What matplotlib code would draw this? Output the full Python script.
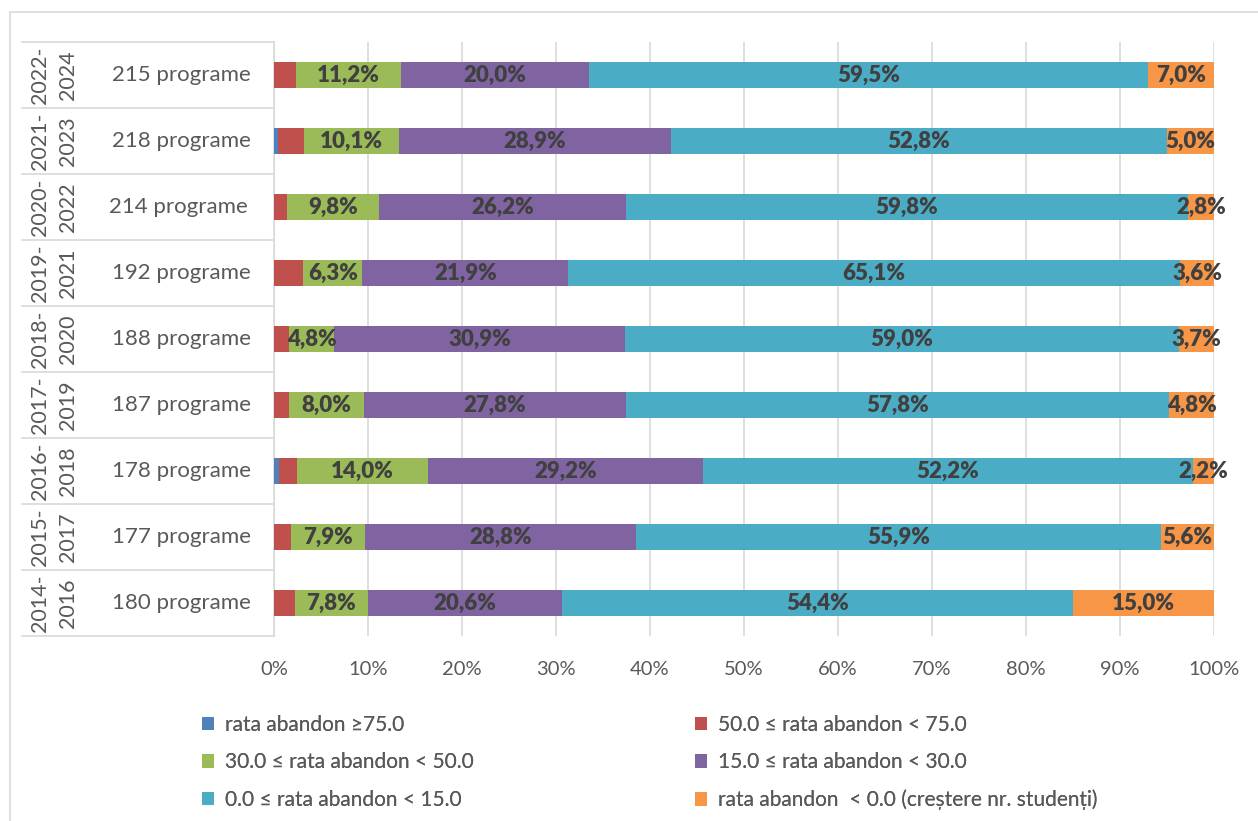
import matplotlib
matplotlib.use("Agg")
import matplotlib.pyplot as plt
from matplotlib.patches import Rectangle, Patch
from matplotlib.ticker import PercentFormatter

plt.rcParams['font.family'] = ['Lato', 'DejaVu Sans']

# rows from bottom to top
years = ['2014-\n2016', '2015-\n2017', '2016-\n2018', '2017-\n2019', '2018-\n2020',
         '2019-\n2021', '2020-\n2022', '2021-\n2023', '2022-\n2024']
programs = ['180 programe', '177 programe', '178 programe', '187 programe', '188 programe',
            '192 programe', '214 programe ', '218 programe', '215 programe']

series_names = ['rata abandon \u226575.0',
                '50.0 \u2264 rata abandon < 75.0',
                '30.0 \u2264 rata abandon < 50.0',
                '15.0 \u2264 rata abandon < 30.0',
                '0.0 \u2264 rata abandon < 15.0',
                'rata abandon  < 0.0 (cre\u0219tere nr. studen\u021bi)']

over75 = [0.0, 0.0, 0.5, 0.0, 0.0, 0.0, 0.0, 0.4, 0.0]
r50_75 = [2.2, 1.8, 1.9, 1.6, 1.6, 3.1, 1.4, 2.8, 2.3]
r30_50 = [7.8, 7.9, 14.0, 8.0, 4.8, 6.3, 9.8, 10.1, 11.2]
r15_30 = [20.6, 28.8, 29.2, 27.8, 30.9, 21.9, 26.2, 28.9, 20.0]
r0_15 = [54.4, 55.9, 52.2, 57.8, 59.0, 65.1, 59.8, 52.8, 59.5]
under0 = [15.0, 5.6, 2.2, 4.8, 3.7, 3.6, 2.8, 5.0, 7.0]

series = [over75, r50_75, r30_50, r15_30, r0_15, under0]
colors = ['#4f81bd', '#c0504d', '#9bbb59', '#8064a2', '#4bacc6', '#f79646']
labelled = [False, False, True, True, True, True]

W, H = 1258, 821
fig = plt.figure(figsize=(W / 100, H / 100), dpi=100)
ax = fig.add_axes([274 / W, 1 - 636 / H, 940 / W, 594 / H])

# chart frame
fig.patches.append(Rectangle((10 / W, -0.05), 1.1, 1.05 - 12 / H, transform=fig.transFigure,
                             fill=False, edgecolor='#d9d9d9', linewidth=1.2))

ypos = list(range(len(years)))
left = [0.0] * len(years)
for vals, col, lab in zip(series, colors, labelled):
    bars = ax.barh(ypos, vals, left=left, height=0.4, color=col, zorder=3)
    if lab:
        for b, v in zip(bars, vals):
            ax.text(b.get_x() + b.get_width() / 2, b.get_y() + b.get_height() / 2,
                    f'{v:.1f}%'.replace('.', ','), ha='center', va='center',
                    fontsize=16, fontweight='heavy', color='#404040', zorder=4)
    left = [l + v for l, v in zip(left, vals)]

ax.set_xlim(0, 100)
ax.set_ylim(-0.5, len(years) - 0.5)
ax.set_xticks(range(0, 101, 10))
ax.xaxis.set_major_formatter(PercentFormatter(decimals=0))
ax.tick_params(axis='x', length=0, labelsize=14.5, labelcolor='#595959', pad=18)
ax.set_yticks([])
ax.grid(axis='x', color='#d9d9d9', linewidth=1.2, zorder=0)
for s in ['top', 'right', 'bottom']:
    ax.spines[s].set_visible(False)
ax.spines['left'].set_color('#d9d9d9')
ax.spines['left'].set_linewidth(1.2)

# category table on the left
tr = ax.get_yaxis_transform()
x0 = (22 - 274) / 940
for i in range(len(years) + 1):
    ax.plot([x0, 0], [i - 0.5, i - 0.5], transform=tr, color='#d9d9d9',
            linewidth=1.2, clip_on=False)
for i, (yr, pr) in enumerate(zip(years, programs)):
    ax.text((54 - 274) / 940, i, yr, transform=tr, rotation=90, ha='center', va='center',
            fontsize=15.5, color='#595959', linespacing=1.45)
    ax.text((181 - 274) / 940, i, pr, transform=tr, ha='center', va='center',
            fontsize=16, color='#595959')

# legend in two columns
handles = [Patch(facecolor=c, edgecolor='none') for c in colors]
for k, xl in enumerate([183, 676]):
    idx = [k, k + 2, k + 4]
    leg = fig.legend([handles[j] for j in idx], [series_names[j] for j in idx],
                     loc='upper left', bbox_to_anchor=(xl / W, 1 - 696 / H),
                     frameon=False, fontsize=15, labelcolor='#595959',
                     handlelength=0.6, handleheight=0.6, handletextpad=0.5,
                     labelspacing=0.84)
    fig.add_artist(leg)

fig.savefig('out.png', dpi=100)
